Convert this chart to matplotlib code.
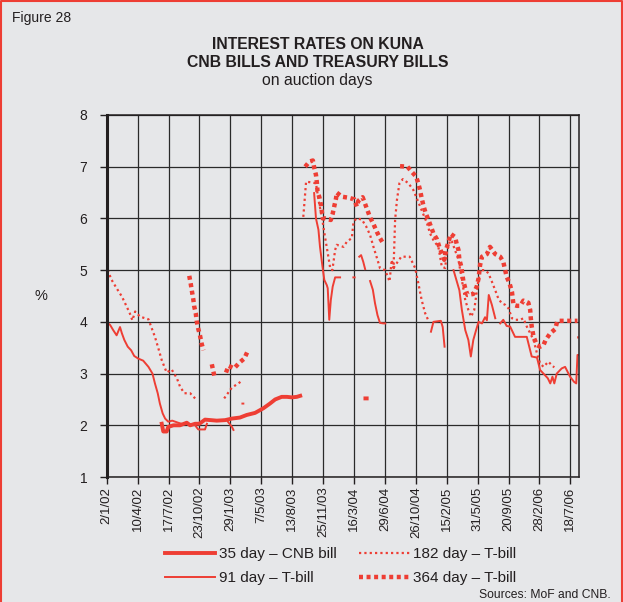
import numpy as np
import matplotlib
matplotlib.use("Agg")
import matplotlib.pyplot as plt
from matplotlib.lines import Line2D

plt.rcParams['font.family'] = ['Liberation Sans', 'DejaVu Sans']

nan = np.nan

# x positions are in units of tick intervals (auction-day axis), y in %
tick_labels = ["2/1/02", "10/4/02", "17/7/02", "23/10/02", "29/1/03", "7/5/03",
               "13/8/03", "25/11/03", "16/3/04", "29/6/04", "26/10/04", "15/2/05",
               "31/5/05", "20/9/05", "28/2/06", "18/7/06"]

cnb35_x = [1.78, 1.83, 1.94, 1.99, 2.16, 2.37, 2.59, 2.70, 2.86, 3.00, 3.18, 3.56, 3.83,
           4.05, 4.31, 4.53, 4.80, 5.07, 5.28, 5.45, 5.66, 5.83, 5.99, 6.15, 6.26,
           nan, 8.37, 8.41]
cnb35_y = [2.03, 1.88, 1.88, 1.97, 2.00, 2.00, 2.05, 2.00, 2.03, 2.03, 2.11, 2.09, 2.10,
           2.13, 2.15, 2.20, 2.24, 2.33, 2.42, 2.50, 2.55, 2.55, 2.54, 2.55, 2.57,
           nan, 2.52, 2.52]

t91_x = [0.03, 0.11, 0.21, 0.32, 0.43, 0.49, 0.57, 0.68, 0.79, 0.89, 1.02, 1.18, 1.35,
         1.48, 1.56, 1.65, 1.72, 1.81, 1.89, 1.99, 2.12, 2.31, 2.47, 2.64, 2.86, 2.96,
         3.18, 3.24, nan, 3.88, 4.05, 4.10, nan, 4.39, 4.42, nan,
         6.71, 6.77, 6.85, 6.90, 6.98, 7.04, 7.12, 7.15, 7.20, 7.25, 7.31, 7.39, 7.55,
         nan, 7.98, 8.02, nan, 8.17, 8.23, 8.30, 8.36, nan,
         8.52, 8.61, 8.68, 8.76, 8.84, 8.95, 9.01, nan,
         10.49, 10.57, 10.81, 10.87, 10.93, nan,
         11.22, 11.41, 11.49, 11.60, 11.70, 11.78, 11.86, 11.95, 12.03, 12.14, 12.24,
         12.30, 12.36, 12.46, 12.57, nan,
         12.73, 12.83, 12.94, 13.05, 13.21, 13.54, 13.59, 13.75, 13.92, 14.02, 14.13,
         14.27, 14.35, 14.42, 14.48, 14.56, 14.72, 14.83, 14.99, 15.12, 15.19, 15.23, 15.28]
t91_y = [3.98, 3.94, 3.84, 3.74, 3.90, 3.78, 3.65, 3.52, 3.45, 3.34, 3.29, 3.25, 3.13,
         3.00, 2.81, 2.62, 2.42, 2.23, 2.13, 2.07, 2.09, 2.05, 2.02, 2.03, 2.00, 1.92,
         1.92, 2.03, nan, 2.10, 1.97, 1.91, nan, 2.42, 2.42, nan,
         6.49, 6.00, 5.78, 5.45, 5.07, 4.81, 4.71, 4.65, 4.04, 4.42, 4.68, 4.86, 4.86,
         nan, 4.86, 4.86, nan, 5.26, 5.29, 5.16, 5.02, nan,
         4.79, 4.62, 4.36, 4.13, 3.98, 3.97, 3.97, nan,
         3.81, 4.00, 4.02, 3.90, 3.52, nan,
         5.00, 4.61, 4.23, 3.84, 3.65, 3.33, 3.65, 3.84, 4.00, 3.97, 4.09,
         4.03, 4.52, 4.33, 4.07, nan,
         3.97, 4.04, 3.92, 3.91, 3.71, 3.71, 3.71, 3.33, 3.31, 3.07, 3.00,
         2.91, 2.81, 2.94, 2.81, 3.00, 3.10, 3.13, 2.94, 2.84, 2.81, 3.36, 3.36]

t182_x = [0.03, 0.16, 0.32, 0.49, 0.65, 0.75, 0.83, 0.92, 1.08, 1.35, 1.46, 1.56, 1.67,
          1.78, 1.94, 2.10, 2.27, 2.37, 2.51, 2.70, 2.86, nan,
          3.80, 4.05, 4.26, 4.37, nan,
          6.36, 6.45, 6.58, 6.77, 6.85, 6.96, 7.06, 7.17, 7.23, 7.30, 7.39, 7.44, 7.66,
          7.77, 7.93, 7.98, 8.07, 8.25, 8.39, 8.52, 8.63, 8.76, 8.84, 9.01, 9.15, 9.22,
          9.28, 9.33, 9.39, 9.47, 9.58, 9.76, 9.92, 10.03, 10.14, 10.25, 10.36, 10.46,
          10.57, 10.73, 10.84, 10.95, 11.00, 11.11, 11.17, 11.38, 11.49, 11.60, 11.70,
          11.79, 11.89, 11.95, 12.01, 12.05, 12.08, 12.24, 12.35, 12.46, 12.57, 12.67,
          12.78, 12.89, 13.00, 13.11, 13.21, 13.38, 13.48, 13.59, 13.70, 13.81, 13.92,
          14.02, 14.13, 14.29, 14.40, 14.48, nan, 15.22, 15.27, nan,
          9.28, 9.40, 9.53, 9.80, 9.98, 10.08, 10.19, 10.30, 10.41]
t182_y = [5.00, 4.81, 4.65, 4.49, 4.29, 4.16, 4.03, 4.20, 4.10, 4.05, 3.87, 3.71, 3.49,
          3.26, 3.02, 3.08, 2.91, 2.75, 2.62, 2.62, 2.52, nan,
          2.52, 2.73, 2.81, 2.86, nan,
          6.03, 6.71, 6.70, 6.68, 6.36, 6.03, 5.65, 5.26, 5.04, 5.00, 5.39, 5.49, 5.45,
          5.55, 5.62, 5.91, 6.00, 5.98, 5.85, 5.68, 5.45, 5.20, 5.04, 5.00, 4.78, 5.20,
          5.04, 5.97, 6.36, 6.68, 6.76, 6.68, 6.55, 6.39, 6.23, 6.07, 5.91, 5.71,
          5.58, 5.45, 5.07, 5.04, 5.33, 5.58, 5.55, 5.20, 4.81, 4.42, 4.23,
          4.10, 4.23, 4.49, 4.75, 4.87, 5.00, 5.00, 4.94, 4.78, 4.61, 4.45,
          4.36, 4.33, 4.26, 4.07, 4.04, 4.04, 4.07, 3.91, 3.78, 3.65, 3.39,
          3.20, 3.13, 3.23, 3.16, 3.12, nan, 3.70, 3.70, nan,
          5.04, 5.15, 5.26, 5.26, 5.04, 4.75, 4.42, 4.17, 4.02]

t364_x = [2.67, 2.72, 2.76, 2.80, 2.83, 2.88, 2.91, 2.96, 3.02, 3.07, 3.13, nan,
          3.40, 3.45, 3.50, nan, 3.86, 3.94, 4.12, 4.29, 4.45, 4.55, nan,
          6.42, 6.56, 6.67, 6.71, 6.77, 6.80, 6.82, 6.88, 6.93, 6.96, 6.99, 7.06, 7.25,
          7.31, 7.36, 7.42, 7.44, 7.61, 7.82, 8.01, 8.09, 8.14, 8.28, 8.36, 8.52, 8.63,
          8.74, 8.84, 8.95, nan,
          9.49, 9.73, 9.87, 10.01, 10.08, 10.14, 10.19, 10.25, 10.32, 10.41, 10.49,
          10.57, 10.68, 10.76, 10.84, 10.92, 10.98, 11.06, 11.13, 11.27, 11.33, 11.38,
          11.41, 11.47, 11.54, 11.60, 11.67, 11.86, 11.97, 12.03, 12.08, 12.14, 12.30,
          12.40, 12.57, 12.73, 12.83, 12.94, 13.03, 13.11, 13.16, 13.27, 13.38, 13.48,
          13.64, 13.70, 13.72, 13.75, 13.81, 13.92, 14.02, 14.13, 14.20, 14.35, 14.51,
          14.58, 14.78, 14.99, 15.23]
t364_y = [4.89, 4.73, 4.58, 4.44, 4.30, 4.17, 4.02, 3.87, 3.73, 3.58, 3.45, nan,
          3.18, 3.04, 2.91, nan, 3.02, 3.15, 3.10, 3.21, 3.29, 3.42, nan,
          7.00, 7.10, 7.12, 6.99, 6.84, 6.69, 6.52, 6.41, 6.26, 6.13, 6.00, 6.00, 5.97,
          6.09, 6.23, 6.39, 6.50, 6.42, 6.40, 6.37, 6.23, 6.34, 6.41, 6.28, 6.02, 5.89,
          5.74, 5.62, 5.51, nan,
          7.01, 7.00, 6.90, 6.81, 6.68, 6.54, 6.39, 6.24, 6.10, 5.97, 5.84,
          5.71, 5.60, 5.45, 5.33, 5.20, 5.40, 5.55, 5.70, 5.64, 5.49, 5.39,
          5.20, 5.07, 4.78, 4.65, 4.52, 4.54, 4.68, 4.84, 5.10, 5.26, 5.31,
          5.45, 5.31, 5.26, 5.16, 4.87, 4.75, 4.58, 4.33, 4.31, 4.31, 4.41,
          4.37, 4.23, 4.07, 3.91, 3.71, 3.55, 3.52, 3.55, 3.65, 3.78, 3.86,
          4.02, 4.02, 4.02, 4.02]

RED = '#ee3e34'
BG = '#e6e7e9'
INK = '#231f20'

fig = plt.figure(figsize=(6.23, 6.02), dpi=100, facecolor=BG)
ax = fig.add_axes([0.1713, 0.2076, 0.7581, 0.6014])
ax.set_facecolor(BG)

ax.set_xlim(0, 15.28)
ax.set_ylim(1, 8)
ax.set_xticks(range(len(tick_labels)))
ax.set_xticklabels(tick_labels, rotation=90, fontsize=9.5, color=INK)
ax.set_yticks(range(1, 9))
ax.set_yticklabels([str(v) for v in range(1, 9)], fontsize=10, color=INK)
ax.tick_params(axis='x', length=5, width=1, color=INK, pad=2)
ax.tick_params(axis='y', length=5, width=1, color=INK, pad=9)
ax.grid(True, color='#2a2a2a', lw=0.9)
ax.set_axisbelow(True)
for s in ax.spines.values():
    s.set_color(INK)
    s.set_linewidth(1.1)
ax.spines['left'].set_linewidth(2.2)

ax.plot(t182_x, t182_y, color=RED, lw=1.6, dashes=(1.0, 1.4), solid_capstyle='butt')
ax.plot(t364_x, t364_y, color=RED, lw=3.2, dashes=(0.9, 0.8), solid_capstyle='butt')
ax.plot(t91_x, t91_y, color=RED, lw=1.4)
ax.plot(cnb35_x, cnb35_y, color=RED, lw=2.8)

fig.text(0.066, 0.508, '%', fontsize=10.5, color=INK, ha='center', va='center')

fig.text(0.019, 0.970, 'Figure 28', fontsize=10, color=INK, ha='left', va='center')
fig.text(0.510, 0.926, 'INTEREST RATES ON KUNA', fontsize=11.3, fontweight='bold',
         color=INK, ha='center', va='center')
fig.text(0.510, 0.897, 'CNB BILLS AND TREASURY BILLS', fontsize=11.3, fontweight='bold',
         color=INK, ha='center', va='center')
fig.text(0.510, 0.867, 'on auction days', fontsize=11.3, color=INK,
         ha='center', va='center')
fig.text(0.980, 0.001, 'Sources: MoF and CNB.', fontsize=8.7, color=INK,
         ha='right', va='bottom')

handles = [Line2D([], [], color=RED, lw=2.8),
           Line2D([], [], color=RED, lw=1.4),
           Line2D([], [], color=RED, lw=1.6, dashes=(1.0, 1.4)),
           Line2D([], [], color=RED, lw=3.2, dashes=(0.9, 0.8))]
labels = ['35 day – CNB bill', '91 day – T-bill', '182 day – T-bill', '364 day – T-bill']
leg = fig.legend(handles, labels, ncol=2, loc='center', bbox_to_anchor=(0.547, 0.0595),
                 frameon=False, fontsize=11, handlelength=3.3, handletextpad=0.25,
                 columnspacing=1.45, labelspacing=0.62, labelcolor=INK,
                 borderpad=0.1)

# red frame
fig.add_artist(Line2D([0.001, 0.001, 0.998, 0.998], [0.0, 0.999, 0.999, 0.0],
                      transform=fig.transFigure, color='#ee3e34', lw=1.5))

fig.savefig('out.png', dpi=100, facecolor=BG)
